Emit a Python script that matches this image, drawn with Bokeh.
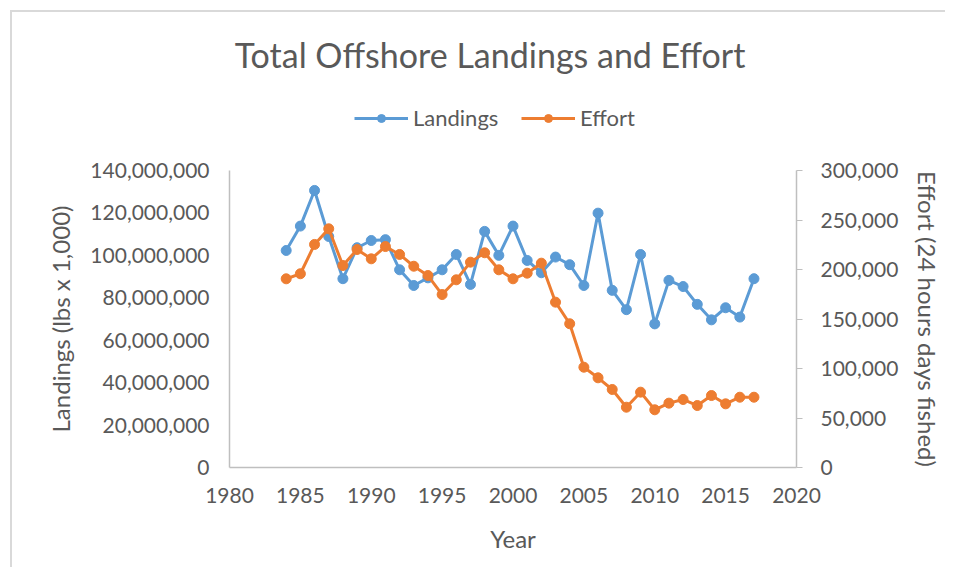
from bokeh.plotting import figure
from bokeh.layouts import column
from bokeh.models import (Range1d, LinearAxis, FixedTicker, NumeralTickFormatter,
                          Legend, LegendItem, ColumnDataSource, Label)
from bokeh.embed import file_html
from bokeh.resources import INLINE

years = list(range(1984, 2018))
landings = [102.3e6, 113.8e6, 130.6e6, 108.9e6, 89.0e6, 103.6e6, 107.0e6, 107.4e6,
            93.2e6, 85.8e6, 89.4e6, 93.2e6, 100.4e6, 86.3e6, 111.3e6, 100.0e6,
            113.8e6, 97.6e6, 91.8e6, 99.2e6, 95.6e6, 85.8e6, 119.9e6, 83.5e6,
            74.4e6, 100.4e6, 67.7e6, 88.2e6, 85.3e6, 76.9e6, 69.6e6, 75.3e6,
            70.9e6, 89.0e6]
effort = [190600, 195700, 225300, 241100, 204000, 220200, 210800, 223200,
          215200, 203300, 193900, 174700, 189600, 207400, 216900, 199700,
          190600, 196300, 206400, 167000, 145200, 101300, 90600, 78800,
          60900, 76100, 58300, 65000, 68700, 62600, 72700, 64300,
          71000, 71000]

x_ticks = [1980, 1985, 1990, 1995, 2000, 2005, 2010, 2015, 2020]
left_ticks = [0, 20e6, 40e6, 60e6, 80e6, 100e6, 120e6, 140e6]
right_ticks = [0, 50000, 100000, 150000, 200000, 250000, 300000]

TITLE = "Total Offshore Landings and Effort"
FONT = "Lato"
TXT = "#595959"
AX = "#BFBFBF"
BLUE = "#5B9BD5"
ORANGE = "#ED7D31"

W = 933
TOP_H = 144
MAIN_H = 411

src = ColumnDataSource(dict(year=years, landings=landings, effort=effort))

# ---- header figure: title + legend (its frame is aligned with the chart's frame) ----
h = figure(width=W, height=TOP_H, output_backend="svg", toolbar_location=None,
           x_range=Range1d(229, 797), y_range=Range1d(0, TOP_H),
           x_axis_type=None, y_axis_type=None,
           min_border_left=0, min_border_right=0, min_border_top=0, min_border_bottom=0)
h.xgrid.visible = False
h.ygrid.visible = False
h.outline_line_color = None
h.background_fill_color = "white"
h.border_fill_color = "white"

h.add_layout(Label(x=490, y=102, text=TITLE, text_font=FONT, text_font_size="34px",
                   text_color=TXT, text_align="center", text_baseline="middle"))

# legend samples (data lies outside this header's ranges, so only the legend shows)
d1 = h.line("year", "landings", source=src, color=BLUE, line_width=3)
d1c = h.scatter("year", "landings", source=src, size=10, color=BLUE)
d2 = h.line("year", "effort", source=src, color=ORANGE, line_width=3)
d2c = h.scatter("year", "effort", source=src, size=10, color=ORANGE)

legend = Legend(items=[LegendItem(label="Landings", renderers=[d1, d1c]),
                       LegendItem(label="Effort", renderers=[d2, d2c])],
                orientation="horizontal", location=(125, 25), margin=0,
                label_text_font=FONT, label_text_font_size="22px",
                label_text_color=TXT, glyph_width=54, glyph_height=20,
                label_width=92, label_standoff=5, spacing=16, padding=4,
                border_line_color=None, background_fill_alpha=0)
h.add_layout(legend, "center")

# ---- main chart ----
p = figure(width=W, height=MAIN_H, output_backend="svg", toolbar_location=None,
           x_range=Range1d(1980, 2020), y_range=Range1d(0, 140e6),
           min_border_left=217, min_border_right=148, min_border_top=14,
           min_border_bottom=100)
p.extra_y_ranges = {"effort": Range1d(0, 300000)}
p.xgrid.visible = False
p.ygrid.visible = False
p.outline_line_color = None
p.background_fill_color = "white"
p.border_fill_color = "white"

p.line("year", "landings", source=src, color=BLUE, line_width=3)
p.scatter("year", "landings", source=src, size=10, color=BLUE)
p.line("year", "effort", source=src, color=ORANGE, line_width=3, y_range_name="effort")
p.scatter("year", "effort", source=src, size=10, color=ORANGE, y_range_name="effort")

def style_axis(ax):
    ax.axis_line_color = AX
    ax.axis_line_width = 1.5
    ax.major_tick_line_color = AX
    ax.minor_tick_line_color = None
    ax.major_label_text_font = FONT
    ax.major_label_text_font_size = "21px"
    ax.major_label_text_color = TXT
    ax.axis_label_text_font = FONT
    ax.axis_label_text_font_size = "24px"
    ax.axis_label_text_font_style = "normal"
    ax.axis_label_text_color = TXT

xa = p.xaxis[0]
style_axis(xa)
xa.ticker = FixedTicker(ticks=x_ticks)
xa.major_tick_out = 0
xa.major_tick_in = 0
xa.major_label_standoff = 20
xa.axis_label = "Year"
xa.axis_label_standoff = 18

ya = p.yaxis[0]
style_axis(ya)
ya.ticker = FixedTicker(ticks=left_ticks)
ya.formatter = NumeralTickFormatter(format="0,0")
ya.major_tick_out = 0
ya.major_tick_in = 0
ya.major_label_standoff = 20
ya.axis_label = "Landings (lbs x 1,000)"
ya.axis_label_standoff = 12

ra = LinearAxis(y_range_name="effort")
style_axis(ra)
ra.ticker = FixedTicker(ticks=right_ticks)
ra.formatter = NumeralTickFormatter(format="0,0")
ra.major_tick_out = 6
ra.major_tick_in = 0
ra.major_label_standoff = 18
ra.axis_label = "Effort (24 hours days fished)"
ra.axis_label_standoff = 12
p.add_layout(ra, "right")

layout = column(h, p, spacing=0)
layout.styles = {"transform": "translate(10px, 10px)",
                 "border-left": "2px solid #D9D9D9", "border-top": "2px solid #D9D9D9"}

open("out.html", "w").write(file_html(layout, INLINE))
